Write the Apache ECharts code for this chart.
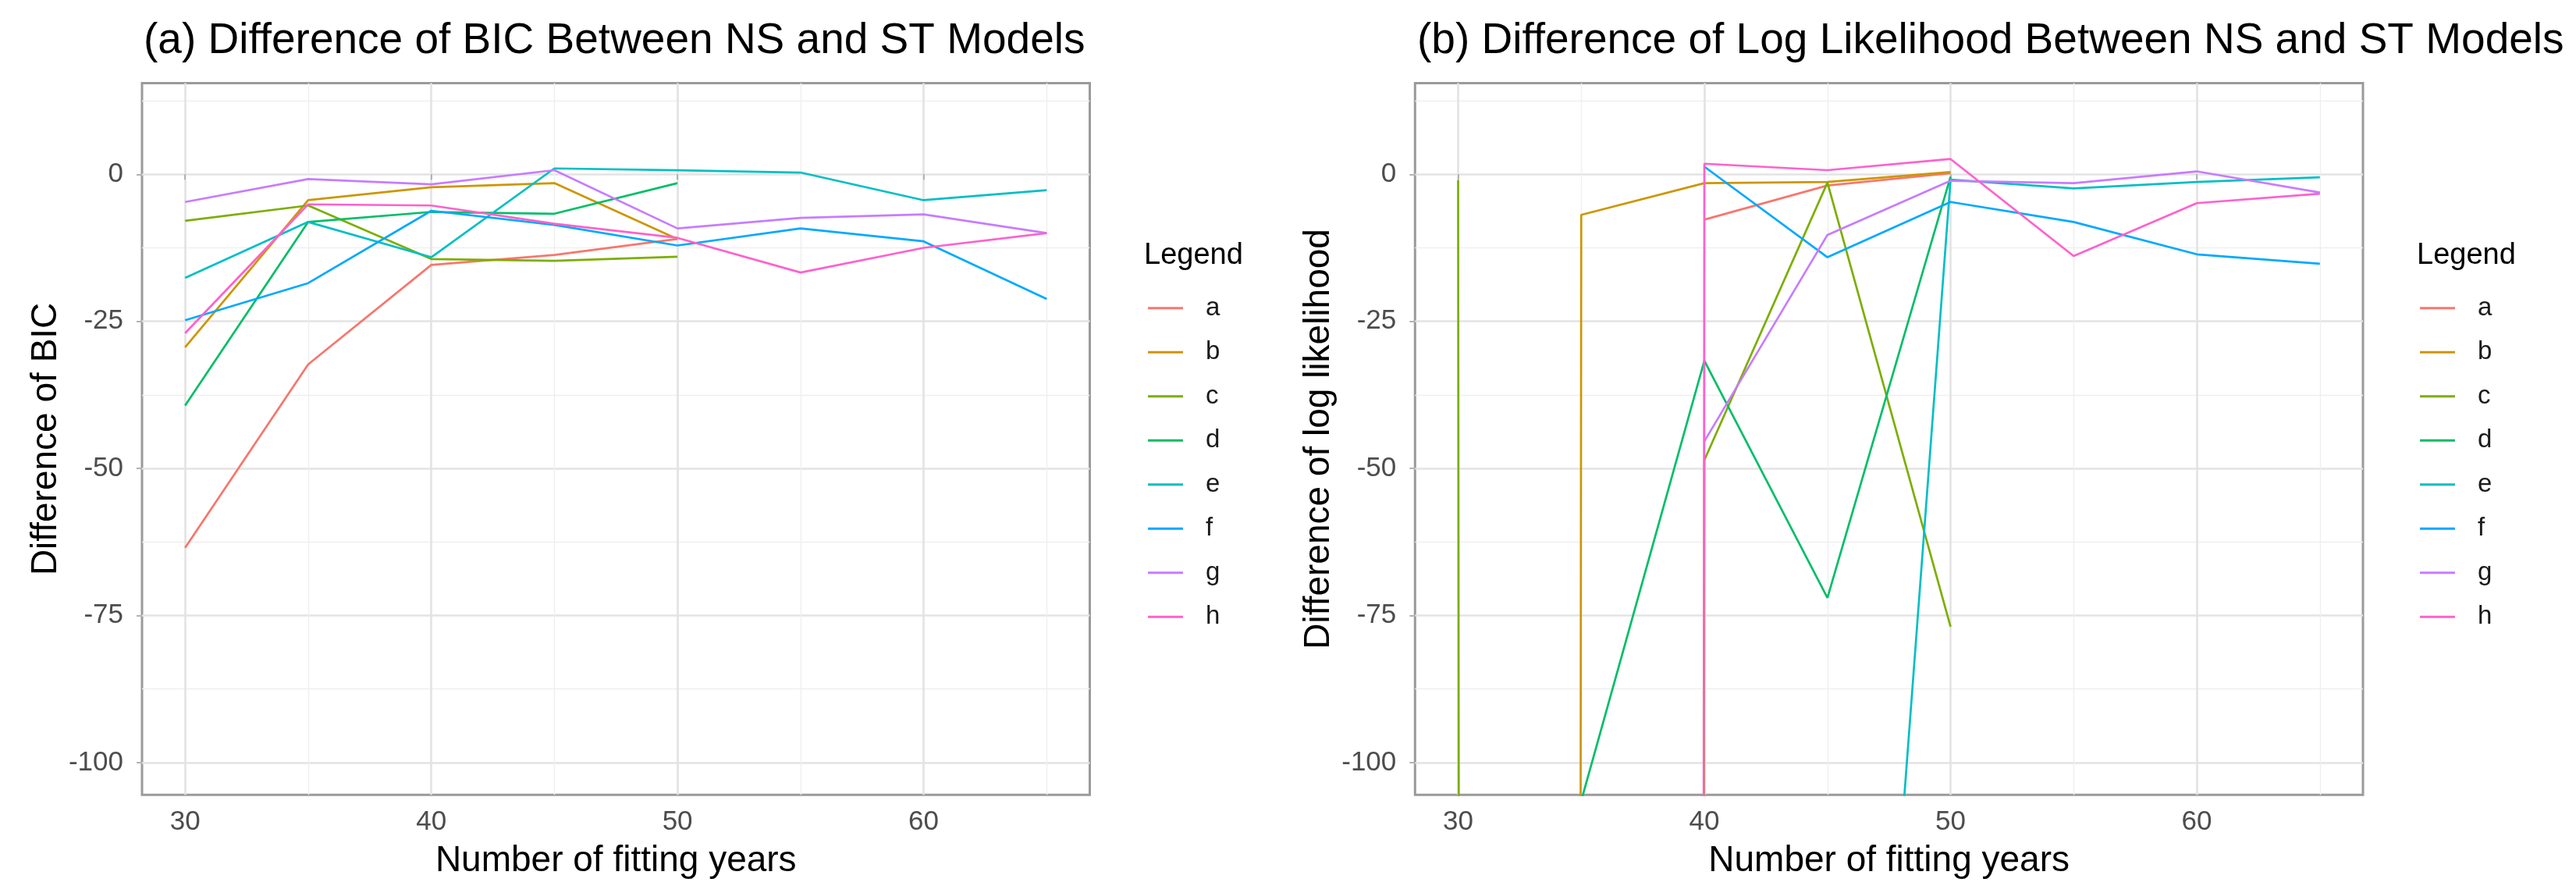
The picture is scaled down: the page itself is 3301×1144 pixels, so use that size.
<!DOCTYPE html>
<html><head><meta charset="utf-8">
<script src="https://cdn.jsdelivr.net/npm/echarts@6/dist/echarts.min.js"></script>
<style>html,body{margin:0;padding:0;background:#fff}#c{width:3301px;height:1144px}</style>
</head><body><div id="c"></div>
<script>
// ---------- data ----------
const years = [30, 35, 40, 45, 50, 55, 60, 65];
const seriesNames = ['a', 'b', 'c', 'd', 'e', 'f', 'g', 'h'];
const colors = ['#F8766D', '#CD9600', '#7CAE00', '#00BE67', '#00BFC4', '#00A9FF', '#C77CFF', '#FF61CC'];

// (a) Difference of BIC
const bic_a = [-63.5, -32.3, -15.4, -13.7, -11.0];
const bic_b = [-29.4, -4.4, -2.2, -1.5, -11.0];
const bic_c = [-7.9, -5.3, -14.4, -14.7, -14.0];
const bic_d = [-39.3, -8.1, -6.4, -6.7, -1.5];
const bic_e = [-17.6, -8.1, -14.1, 1.0, 0.7, 0.3, -4.4, -2.7];
const bic_f = [-24.8, -18.5, -6.2, -8.6, -12.1, -9.2, -11.4, -21.2];
const bic_g = [-4.7, -0.8, -1.7, 0.7, -9.2, -7.4, -6.8, -10.0];
const bic_h = [-27.0, -5.1, -5.3, -8.4, -10.8, -16.7, -12.5, -10.0];

// (b) Difference of log likelihood (values far below the visible range are off-chart estimates)
const ll_a = [null, null, -7.7, -1.9, 0.2];
const ll_b = [-20000, -6.9, -1.5, -1.3, 0.4];
const ll_c = [-1.0, -20000, -48.6, -1.4, -76.9];
const ll_d = [null, -106.5, -31.7, -72.0, -0.4];
const ll_e = [null, null, null, -280, -0.9, -2.4, -1.3, -0.5];
const ll_f = [null, null, 1.3, -14.1, -4.7, -8.1, -13.6, -15.2];
const ll_g = [null, null, -45.4, -10.3, -1.1, -1.5, 0.5, -3.1];
const ll_h = [null, -20000, 1.8, 0.7, 2.6, -13.9, -4.9, -3.3];

const xMajorTicks = [30, 40, 50, 60];
const xMinorTicks = [35, 45, 55, 65];
const yMajorTicks = [-100, -75, -50, -25, 0];
const yMinorTicks = [-87.5, -62.5, -37.5, -12.5, 12.5];

const titleA = '(a) Difference of BIC Between NS and ST Models';
const titleB = '(b) Difference of Log Likelihood Between NS and ST Models';
const xTitle = 'Number of fitting years';
const yTitleA = 'Difference of BIC';
const yTitleB = 'Difference of log likelihood';
const legendTitle = 'Legend';

// ---------- build ----------
const FONT = '"Liberation Sans", Arial, Helvetica, sans-serif';
const bicData = [bic_a, bic_b, bic_c, bic_d, bic_e, bic_f, bic_g, bic_h];
const llData = [ll_a, ll_b, ll_c, ll_d, ll_e, ll_f, ll_g, ll_h];

const X_MIN = 28.25, X_MAX = 66.75, Y_MIN = -105.5, Y_MAX = 15.5;
const majorGrid = { color: '#e3e3e3', width: 2.6 };
const minorGrid = { color: '#efefef', width: 1.4 };

function xAxesFor(g) {
  return [
    {
      type: 'value', gridIndex: g, min: X_MIN, max: X_MAX,
      name: xTitle, nameLocation: 'middle', nameGap: 62,
      nameTextStyle: { fontSize: 46, color: '#000', fontFamily: FONT },
      axisLine: { show: false },
      axisTick: { show: true, customValues: xMajorTicks, length: 7, lineStyle: { color: '#b3b3b3', width: 2 } },
      axisLabel: { customValues: xMajorTicks, fontSize: 35, color: '#4d4d4d', margin: 18, fontFamily: FONT },
      splitLine: { show: true, lineStyle: majorGrid }
    },
    {
      type: 'value', gridIndex: g, min: X_MIN, max: X_MAX, position: 'bottom',
      axisLine: { show: false },
      axisTick: { show: false, customValues: xMinorTicks },
      axisLabel: { show: false, customValues: xMinorTicks },
      splitLine: { show: true, lineStyle: minorGrid }
    }
  ];
}
function yAxesFor(g, title) {
  return [
    {
      type: 'value', gridIndex: g, min: Y_MIN, max: Y_MAX,
      name: title, nameLocation: 'middle', nameGap: 100, nameRotate: 90,
      nameTextStyle: { fontSize: 46, color: '#000', fontFamily: FONT },
      axisLine: { show: false },
      axisTick: { show: true, customValues: yMajorTicks, length: 7, lineStyle: { color: '#b3b3b3', width: 2 } },
      axisLabel: { customValues: yMajorTicks, fontSize: 35, color: '#4d4d4d', margin: 24, fontFamily: FONT },
      splitLine: { show: true, lineStyle: majorGrid }
    },
    {
      type: 'value', gridIndex: g, min: Y_MIN, max: Y_MAX, position: 'left',
      axisLine: { show: false },
      axisTick: { show: false, customValues: yMinorTicks },
      axisLabel: { show: false, customValues: yMinorTicks },
      splitLine: { show: true, lineStyle: minorGrid }
    }
  ];
}

function toPoints(vals) {
  return vals.map((v, i) => [years[i], v === null ? '-' : v]);
}

const series = [];
seriesNames.forEach((n, i) => {
  series.push({
    name: n, type: 'line', xAxisIndex: 0, yAxisIndex: 0, data: toPoints(bicData[i]),
    symbol: 'none', clip: true, color: colors[i],
    lineStyle: { width: 2.7, color: colors[i] }, emphasis: { disabled: true }
  });
});
seriesNames.forEach((n, i) => {
  series.push({
    name: n, type: 'line', xAxisIndex: 2, yAxisIndex: 2, data: toPoints(llData[i]),
    symbol: 'none', clip: true, color: colors[i],
    lineStyle: { width: 2.7, color: colors[i] }, emphasis: { disabled: true }
  });
});

function legendAt(left) {
  return {
    data: seriesNames, orient: 'vertical', left: left, top: 374.7,
    itemWidth: 45, itemHeight: 3, itemGap: 16.5, icon: 'rect', selectedMode: false, padding: 0,
    textStyle: { fontSize: 33, lineHeight: 40, color: '#1a1a1a', fontFamily: FONT, padding: [0, 0, 0, 24] }
  };
}

const gridBase = { show: true, top: 106.5, bottom: 125.7, borderColor: '#9a9a9a', borderWidth: 3, backgroundColor: '#fff' };

const option = {
  animation: false,
  backgroundColor: '#ffffff',
  textStyle: { fontFamily: FONT },
  title: [
    { text: titleA, left: 184, top: 25, padding: 0, textStyle: { fontSize: 55, fontWeight: 'normal', color: '#000', fontFamily: FONT } },
    { text: titleB, left: 1816, top: 25, padding: 0, textStyle: { fontSize: 55, fontWeight: 'normal', color: '#000', fontFamily: FONT } },
    { text: legendTitle, left: 1466, top: 309, padding: 0, textStyle: { fontSize: 38, fontWeight: 'normal', color: '#000', fontFamily: FONT } },
    { text: legendTitle, left: 3097, top: 309, padding: 0, textStyle: { fontSize: 38, fontWeight: 'normal', color: '#000', fontFamily: FONT } }
  ],
  legend: [legendAt(1471), legendAt(3101)],
  grid: [
    Object.assign({}, gridBase, { left: 182, right: 3301 - 1396.5 }),
    Object.assign({}, gridBase, { left: 1813.3, right: 3301 - 3028 })
  ],
  xAxis: [...xAxesFor(0), ...xAxesFor(1)],
  yAxis: [...yAxesFor(0, yTitleA), ...yAxesFor(1, yTitleB)],
  series: series
};

const chart = echarts.init(document.getElementById('c'), null, { renderer: 'canvas' });
chart.setOption(option);
</script>
</body></html>
